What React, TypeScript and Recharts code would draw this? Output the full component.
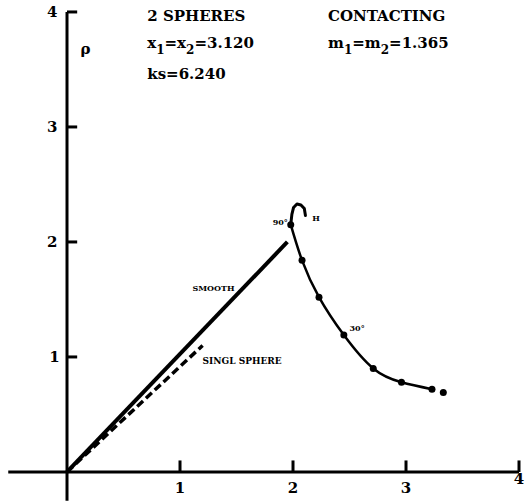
import React from 'react';
import { ComposedChart, Line, Scatter, XAxis, YAxis, ReferenceLine } from 'recharts';

const smoothPts = [{ x: 0, y: 0 }, { x: 1.95, y: 2.0 }];
const singlePts = [{ x: 0, y: 0 }, { x: 1.2, y: 1.1 }];
const hookPts = [
  { x: 2.11, y: 2.23 }, { x: 2.1, y: 2.29 }, { x: 2.07, y: 2.322 }, { x: 2.035, y: 2.33 },
  { x: 2.005, y: 2.3 }, { x: 1.99, y: 2.24 }, { x: 1.98, y: 2.15 },
];
const curvePts = [
  { x: 1.98, y: 2.15 }, { x: 2.08, y: 1.84 }, { x: 2.23, y: 1.52 }, { x: 2.45, y: 1.19 },
  { x: 2.71, y: 0.9 }, { x: 2.96, y: 0.78 }, { x: 3.23, y: 0.72 },
];
const markerPts = [
  { x: 1.98, y: 2.15 }, { x: 2.08, y: 1.84 }, { x: 2.23, y: 1.52 }, { x: 2.45, y: 1.19 },
  { x: 2.71, y: 0.9 }, { x: 2.96, y: 0.78 }, { x: 3.23, y: 0.72 }, { x: 3.33, y: 0.69 },
];
const xTicks = [1, 2, 3, 4];
const yTicks = [1, 2, 3, 4];
const xTickLabels = [
  { x: 1, y: -0.14, text: '1' }, { x: 2, y: -0.14, text: '2' },
  { x: 3, y: -0.14, text: '3' }, { x: 4, y: -0.06, text: '4' },
];
const yTickLabels = [
  { x: -0.11, y: 1, text: '1' }, { x: -0.13, y: 2, text: '2' },
  { x: -0.13, y: 3, text: '3' }, { x: -0.13, y: 4, text: '4' },
];
const headerLabels = [
  { x: 0.71, y: 3.97, text: '2 SPHERES' },
  { x: 2.31, y: 3.97, text: 'CONTACTING' },
  { x: 0.71, y: 3.73, text: 'x_1=x_2=3.120' },
  { x: 2.31, y: 3.73, text: 'm_1=m_2=1.365' },
  { x: 0.71, y: 3.46, text: 'ks=6.240' },
  { x: 0.12, y: 3.68, text: 'ρ' },
];
const smallLabels = [
  { x: 1.11, y: 1.6, text: 'SMOOTH' },
  { x: 1.82, y: 2.17, text: '90°' },
  { x: 2.17, y: 2.21, text: 'H' },
  { x: 2.5, y: 1.25, text: '30°' },
];
const sphereLabel = [{ x: 1.2, y: 0.97, text: 'SINGL SPHERE' }];

const FONT = '"DejaVu Serif", serif';

// splits "a_1b" into runs; subscript runs are lowered, the following run is raised back
const renderParts = (s: string) => {
  const runs: { t: string; sub: boolean }[] = [];
  const re = /_(\d)/g;
  let last = 0;
  let m: RegExpExecArray | null;
  while ((m = re.exec(s)) !== null) {
    if (m.index > last) runs.push({ t: s.slice(last, m.index), sub: false });
    runs.push({ t: m[1], sub: true });
    last = m.index + m[0].length;
  }
  if (last < s.length) runs.push({ t: s.slice(last), sub: false });
  let prevSub = false;
  return runs.map((r, i) => {
    const dy = r.sub ? 6 : prevSub ? -6 : 0;
    prevSub = r.sub;
    return (
      <tspan key={i} dy={dy} fontSize={r.sub ? '0.8em' : undefined}>{r.t}</tspan>
    );
  });
};

const makeText = (size: number, anchor: string, family = FONT) => (props: any) => {
  const { cx, cy, payload } = props;
  return (
    <text x={cx} y={cy + size * 0.36} fontSize={size} fontWeight="bold" fontFamily={family}
      textAnchor={anchor} fill="#000">
      {renderParts(payload.text)}
    </text>
  );
};

const Dot = (props: any) => <circle cx={props.cx} cy={props.cy} r={3.5} fill="#000" />;

export default function App() {
  return (
    <div style={{ position: 'absolute', left: 0, top: 0, width: 532, height: 503, background: '#fff' }}>
      <ComposedChart width={532} height={503} margin={{ top: 0, right: 0, bottom: 0, left: 0 }}>
        <XAxis type="number" dataKey="x" domain={[-0.593, 4.115]} hide allowDataOverflow />
        <YAxis type="number" dataKey="y" domain={[-0.27, 4.104]} hide allowDataOverflow />
        <ReferenceLine segment={[{ x: 0, y: -0.25 }, { x: 0, y: 4.0 }]} stroke="#000" strokeWidth={3} />
        <ReferenceLine segment={[{ x: -0.52, y: 0 }, { x: 4.0, y: 0 }]} stroke="#000" strokeWidth={3} />
        {xTicks.map((t) => (
          <ReferenceLine key={'xt' + t} segment={[{ x: t, y: 0 }, { x: t, y: 0.1 }]} stroke="#000" strokeWidth={3} />
        ))}
        {yTicks.map((t) => (
          <ReferenceLine key={'yt' + t} segment={[{ x: 0, y: t }, { x: 0.09, y: t }]} stroke="#000" strokeWidth={3} />
        ))}
        <Line data={smoothPts} dataKey="y" type="linear" stroke="#000" strokeWidth={4} dot={false} isAnimationActive={false} />
        <Line data={singlePts} dataKey="y" type="linear" stroke="#000" strokeWidth={3.5} strokeDasharray="8 4" dot={false} isAnimationActive={false} />
        <Line data={hookPts} dataKey="y" type="linear" stroke="#000" strokeWidth={3} strokeLinejoin="round" strokeLinecap="round" dot={false} isAnimationActive={false} />
        <Line data={curvePts} dataKey="y" type="natural" stroke="#000" strokeWidth={2.5} dot={false} isAnimationActive={false} />
        <Scatter data={markerPts} dataKey="y" shape={Dot} isAnimationActive={false} />
        <Scatter data={xTickLabels} dataKey="y" shape={makeText(15, 'middle')} isAnimationActive={false} />
        <Scatter data={yTickLabels} dataKey="y" shape={makeText(15, 'middle')} isAnimationActive={false} />
        <Scatter data={headerLabels} dataKey="y" shape={makeText(15, 'start')} isAnimationActive={false} />
        <Scatter data={smallLabels} dataKey="y" shape={makeText(8, 'start')} isAnimationActive={false} />
        <Scatter data={sphereLabel} dataKey="y" shape={makeText(9, 'start')} isAnimationActive={false} />
      </ComposedChart>
    </div>
  );
}
